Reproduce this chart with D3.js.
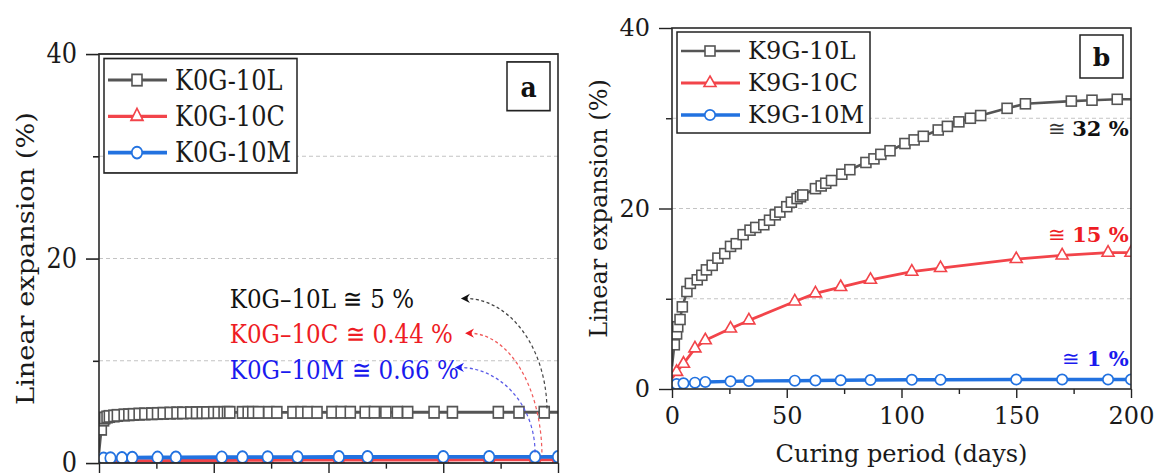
<!DOCTYPE html>
<html><head><meta charset="utf-8">
<script src="https://cdn.jsdelivr.net/npm/d3@7"></script>
<style>body{margin:0;background:#fff}svg{display:block}</style>
</head><body>
<svg id="c" width="1157" height="473"></svg>
<script>
// ---------- data ----------
const daysL = [0, 1, 2, 2.5, 3.5, 4.5, 6.5, 8, 11, 13, 15, 17.5, 20, 23, 25.5, 28, 31, 34, 36.5, 40, 42.5, 45, 47, 50, 52, 54.5, 56, 57, 62.5, 65, 67, 69.5, 74, 77.5, 84.5, 88, 91, 95, 101.5, 105.5, 109.5, 116, 120, 125, 130, 134.5, 146, 154, 174, 183, 194, 206];
const leftL = [1.0, 3.3, 4.2, 4.4, 4.5, 4.55, 4.6, 4.65, 4.7, 4.72, 4.75, 4.78, 4.8, 4.82, 4.84, 4.86, 4.88, 4.9, 4.9, 4.92, 4.92, 4.93, 4.93, 4.94, 4.94, 4.94, 4.95, 4.95, 4.95, 4.95, 4.95, 4.95, 4.95, 4.95, 4.95, 4.95, 4.95, 4.95, 4.96, 4.96, 4.96, 4.96, 4.96, 4.96, 4.96, 4.96, 4.96, 4.96, 4.96, 4.96, 4.96, 4.96];
const rightL = [2.5, 4.9, 6.1, 6.9, 7.7, 9.1, 10.8, 11.7, 12.1, 12.6, 13.2, 13.7, 14.5, 15.0, 15.8, 16.1, 17.1, 17.6, 17.9, 18.2, 18.7, 19.3, 19.6, 20.2, 20.7, 21.1, 21.3, 21.5, 22.2, 22.5, 22.8, 23.1, 23.8, 24.3, 25.1, 25.5, 26.0, 26.4, 27.2, 27.6, 28.0, 28.7, 29.1, 29.6, 30.0, 30.3, 31.1, 31.6, 31.9, 32.0, 32.1, 32.1];
const daysCM = [0, 2, 5, 10, 14.5, 25.5, 33.5, 53.5, 62.5, 73.5, 86.5, 104.5, 117, 150, 170, 190, 200];
const leftC = [0.05, 0.12, 0.15, 0.18, 0.2, 0.22, 0.24, 0.26, 0.27, 0.28, 0.29, 0.3, 0.3, 0.31, 0.32, 0.32, 0.32];
const leftM = [0.3, 0.45, 0.48, 0.5, 0.52, 0.54, 0.55, 0.56, 0.57, 0.58, 0.58, 0.59, 0.59, 0.6, 0.6, 0.6, 0.6];
const rightC = [1.2, 1.9, 2.8, 4.5, 5.4, 6.7, 7.6, 9.7, 10.6, 11.3, 12.1, 13.0, 13.4, 14.4, 14.8, 15.1, 15.1];
const rightM = [0.5, 0.55, 0.63, 0.7, 0.78, 0.85, 0.89, 0.92, 0.94, 0.97, 1.0, 1.02, 1.03, 1.05, 1.05, 1.05, 1.05];
const xMajor = [0, 50, 100, 150, 200];
const xMinor = [25, 75, 125, 175];
const yMajor = [0, 20, 40];
const yMinor = [10, 30];
const yGrid = [10, 20, 30];
const leftNames = ["K0G-10L", "K0G-10C", "K0G-10M"];
const rightNames = ["K9G-10L", "K9G-10C", "K9G-10M"];
const leftNotes = ["K0G\u201310L \u2245 5 %", "K0G\u201310C \u2245 0.44 %", "K0G\u201310M \u2245 0.66 %"];
const rightNotes = ["32 %", "15 %", "1 %"];
const xTitle = "Curing period (days)";
const yTitle = "Linear expansion (%)";

// ---------- style ----------
const COL = ["#555555", "#f2444a", "#2272e0"];
const NOTE_COL = ["#111111", "#ee1c24", "#1a1aee"];
const ARC_COL = ["#444444", "#f05a5a", "#5a5ae6"];
const FONT = "'DejaVu Serif', serif";
const W = 459, H = 361;

const svg = d3.select("#c");

function marker(sel, k, color) {
  if (k === 0) {
    sel.append("rect").attr("x", -5).attr("y", -5).attr("width", 10).attr("height", 10)
      .attr("fill", "#fff").attr("stroke", color).attr("stroke-width", 1.6);
  } else if (k === 1) {
    sel.append("path").attr("d", "M0,-7L6,3.5L-6,3.5Z")
      .attr("fill", "#fff").attr("stroke", color).attr("stroke-width", 1.6);
  } else {
    sel.append("circle").attr("r", 5.2)
      .attr("fill", "#fff").attr("stroke", color).attr("stroke-width", 1.7);
  }
}

function panel(opts) {
  const g = svg.append("g").attr("transform", `translate(${opts.tx},${opts.ty}) scale(1,${opts.sy})`);
  const x = d3.scaleLinear().domain([0, 200]).range([0, W]);
  const y = d3.scaleLinear().domain([0, 40]).range([H, 0]);
  const cid = "clip" + opts.id;
  g.append("clipPath").attr("id", cid).append("rect").attr("width", W).attr("height", H);

  // grid
  g.append("g").selectAll("line").data(yGrid).join("line")
    .attr("x1", 0).attr("x2", W).attr("y1", d => y(d)).attr("y2", d => y(d))
    .attr("stroke", "#c4c4c4").attr("stroke-width", 1).attr("stroke-dasharray", "4,3");

  // axes
  const styleAxis = a => {
    a.select(".domain").remove();
    a.selectAll("line").attr("stroke", "#222").attr("stroke-width", 1.4);
    a.selectAll("text").attr("font-family", FONT).attr("font-size", 24).attr("fill", "#1a1a1a");
  };
  g.append("g").attr("transform", `translate(0,${H})`)
    .call(d3.axisBottom(x).tickValues(xMajor).tickSize(9).tickPadding(9)
      .tickFormat(opts.xLabels ? d3.format("d") : "")).call(styleAxis);
  g.append("g").attr("transform", `translate(0,${H})`)
    .call(d3.axisBottom(x).tickValues(xMinor).tickSize(5).tickFormat("")).call(styleAxis);
  g.append("g").call(d3.axisLeft(y).tickValues(yMajor).tickSize(13).tickPadding(9).tickFormat(d3.format("d"))).call(styleAxis);
  g.append("g").call(d3.axisLeft(y).tickValues(yMinor).tickSize(6).tickFormat("")).call(styleAxis);

  // titles
  g.append("text").attr("transform", `translate(-73,${H / 2}) rotate(-90)`)
    .attr("text-anchor", "middle").attr("dominant-baseline", "central")
    .attr("font-family", FONT).attr("font-size", 24).attr("fill", "#1a1a1a").text(yTitle);
  if (opts.xLabels) {
    g.append("text").attr("x", W / 2).attr("y", H + 73).attr("text-anchor", "middle")
      .attr("font-family", FONT).attr("font-size", 24).attr("fill", "#1a1a1a").text(xTitle);
  }

  // series
  const series = [
    { days: daysL, vals: opts.L },
    { days: daysCM, vals: opts.C },
    { days: daysCM, vals: opts.M }
  ];
  const data = g.append("g").attr("clip-path", `url(#${cid})`);
  const line = d3.line().x(d => x(d[0])).y(d => y(d[1]));
  const lw = [2.6, 2.8, 3.4];
  series.forEach((s, k) => {
    const pts = s.days.map((d, i) => [d, s.vals[i]]);
    data.append("path").datum(pts).attr("d", line).attr("fill", "none")
      .attr("stroke", COL[k]).attr("stroke-width", lw[k]).attr("stroke-linejoin", "round");
    data.append("g").selectAll("g").data(pts.filter(p => p[0] > 0)).join("g")
      .attr("transform", p => `translate(${x(p[0])},${y(p[1])})`)
      .each(function () { marker(d3.select(this), k, COL[k]); });
  });

  // frame
  g.append("rect").attr("width", W).attr("height", H).attr("fill", "none")
    .attr("stroke", "#2a2a2a").attr("stroke-width", 1.6);

  // legend
  const lg = g.append("g");
  lg.append("rect").attr("x", 5).attr("y", 4).attr("width", 193).attr("height", 101)
    .attr("fill", "#fff").attr("stroke", "#222").attr("stroke-width", 1.5);
  opts.names.forEach((n, k) => {
    const yy = 23 + k * 32;
    lg.append("line").attr("x1", 9).attr("x2", 68).attr("y1", yy).attr("y2", yy)
      .attr("stroke", COL[k]).attr("stroke-width", lw[k]);
    marker(lg.append("g").attr("transform", `translate(38,${yy})`), k, COL[k]);
    lg.append("text").attr("x", 76).attr("y", yy).attr("dominant-baseline", "central")
      .attr("font-family", FONT).attr("font-size", 24).attr("fill", "#1a1a1a").text(n);
  });

  // panel letter
  g.append("rect").attr("x", 408).attr("y", 7).attr("width", 43).attr("height", 43)
    .attr("fill", "#fff").attr("stroke", "#222").attr("stroke-width", 1.5);
  g.append("text").attr("x", 429.5).attr("y", 29).attr("text-anchor", "middle").attr("dominant-baseline", "central")
    .attr("font-family", FONT).attr("font-weight", "bold").attr("font-size", 25).attr("fill", "#111").text(opts.letter);

  return { g, x, y };
}

// left panel (a) — its bottom labels fall outside the picture
const A = panel({ id: "a", tx: 99, ty: 54, sy: 409 / 361, L: leftL, C: leftC, M: leftM, names: leftNames, letter: "a", xLabels: false });
// annotations (a)
const noteV = [15.2, 11.7, 8.2];
const tip = [[157.7, 16.1], [159.5, 12.7], [155.1, 9.35]];
const endP = [[195.2, 5.1], [193, 0.7], [190, 1.0]];
leftNotes.forEach((t, k) => {
  A.g.append("text").attr("x", A.x(57)).attr("y", A.y(noteV[k]))
    .attr("font-family", FONT).attr("font-size", 23).attr("fill", NOTE_COL[k]).text(t);
  const tx = A.x(tip[k][0]), ty = A.y(tip[k][1]);
  const ex = A.x(endP[k][0]), ey = A.y(endP[k][1]);
  A.g.append("path").attr("d", `M${tx + 4},${ty}A${ex - tx - 4},${ey - ty} 0 0 1 ${ex},${ey}`)
    .attr("fill", "none").attr("stroke", ARC_COL[k]).attr("stroke-width", 1.2).attr("stroke-dasharray", "3,2.5");
  A.g.append("path").attr("d", `M${tx},${ty}L${tx + 9},${ty - 4}L${tx + 6},${ty}L${tx + 9},${ty + 4}Z`)
    .attr("fill", NOTE_COL[k]);
});

// right panel (b)
const B = panel({ id: "b", tx: 672, ty: 28, sy: 1, L: rightL, C: rightC, M: rightM, names: rightNames, letter: "b", xLabels: true });
const rNoteV = [28.0, 16.3, 2.55];
rightNotes.forEach((t, k) => {
  const tt = B.g.append("text").attr("x", B.x(199)).attr("y", B.y(rNoteV[k])).attr("text-anchor", "end")
    .attr("font-family", FONT).attr("font-size", 21).attr("fill", NOTE_COL[k]);
  tt.append("tspan").attr("font-weight", "normal").attr("fill", k === 0 ? "#333" : NOTE_COL[k]).text("\u2245 ");
  tt.append("tspan").attr("font-weight", "bold").text(t);
});
</script>
</body></html>
